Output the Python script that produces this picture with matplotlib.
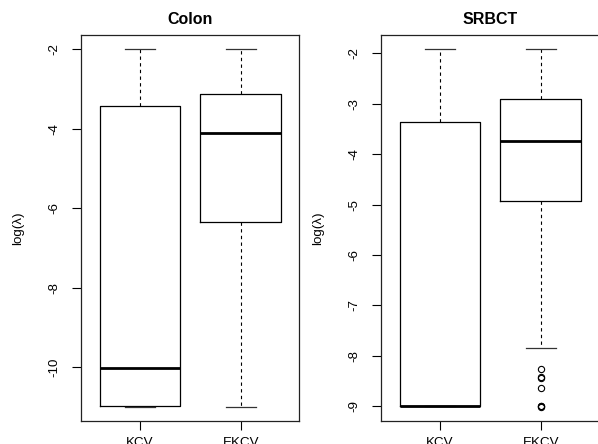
import matplotlib
matplotlib.use("Agg")
import matplotlib.pyplot as plt

plt.rcParams['font.family'] = ['Liberation Sans', 'DejaVu Sans']
plt.rcParams['axes.unicode_minus'] = False

methods = ['KCV', 'EKCV']

# Colon: whisker low, q1, median, q3, whisker high
colon_wlo = [-11.0, -11.0]
colon_q1 = [-10.98, -6.34]
colon_med = [-10.03, -4.11]
colon_q3 = [-3.43, -3.12]
colon_whi = [-2.0, -2.0]
colon_fliers = [[], []]
colon_ticks = [-10, -8, -6, -4, -2]

# SRBCT
srbct_wlo = [-9.0, -7.85]
srbct_q1 = [-9.0, -4.93]
srbct_med = [-9.0, -3.73]
srbct_q3 = [-3.36, -2.91]
srbct_whi = [-1.92, -1.92]
srbct_fliers = [[], [-8.27, -8.43, -8.45, -8.63, -8.99, -9.0, -9.01]]
srbct_ticks = [-9, -8, -7, -6, -5, -4, -3, -2]


def make_stats(wlo, q1, med, q3, whi, fliers):
    stats = []
    for i, name in enumerate(methods):
        stats.append(dict(label=name, whislo=wlo[i], q1=q1[i], med=med[i],
                          q3=q3[i], whishi=whi[i], fliers=fliers[i]))
    return stats


def draw(ax, stats, ticks, title):
    ax.bxp(stats, positions=[1, 2], widths=0.8, showfliers=True,
           boxprops=dict(color='black', linewidth=0.9),
           whiskerprops=dict(color='black', linewidth=0.8, linestyle=(0, (3, 3))),
           capprops=dict(color='#333333', linewidth=0.9),
           medianprops=dict(color='black', linewidth=2.0),
           flierprops=dict(marker='o', markersize=4.5, markerfacecolor='none',
                           markeredgecolor='black', markeredgewidth=0.8),
           capwidths=0.3)
    lo = min(s['whislo'] for s in stats)
    lo = min([lo] + [f for s in stats for f in s['fliers']])
    hi = max(s['whishi'] for s in stats)
    r = hi - lo
    ax.set_ylim(lo - 0.04 * r, hi + 0.04 * r)
    ax.set_xlim(0.414, 2.582)
    ax.set_yticks(ticks)
    ax.set_yticklabels([str(t) for t in ticks], rotation=90, va='center')
    ax.set_xticks([1, 2])
    ax.set_xticklabels(methods)
    ax.tick_params(axis='y', length=6.5, width=0.8, pad=8, labelsize=9.6)
    ax.tick_params(axis='x', length=6.5, width=0.8, pad=5, labelsize=9.6)
    for s in ax.spines.values():
        s.set_linewidth(0.9)
        s.set_color('#222222')
    ax.set_title(title, fontweight='bold', fontsize=11.5, pad=8)
    ax.set_ylabel('log(λ)', fontsize=9.6, va='center')
    ax.yaxis.set_label_coords(-0.29, 0.5)


fig = plt.figure(figsize=(5.98, 4.44), dpi=100)
ax1 = fig.add_axes([81 / 598, 23 / 444, 218.3 / 598, 386 / 444])
ax2 = fig.add_axes([381 / 598, 23 / 444, 218.3 / 598, 386 / 444])

draw(ax1, make_stats(colon_wlo, colon_q1, colon_med, colon_q3, colon_whi, colon_fliers),
     colon_ticks, 'Colon')
draw(ax2, make_stats(srbct_wlo, srbct_q1, srbct_med, srbct_q3, srbct_whi, srbct_fliers),
     srbct_ticks, 'SRBCT')

fig.savefig('out.png', dpi=100)
